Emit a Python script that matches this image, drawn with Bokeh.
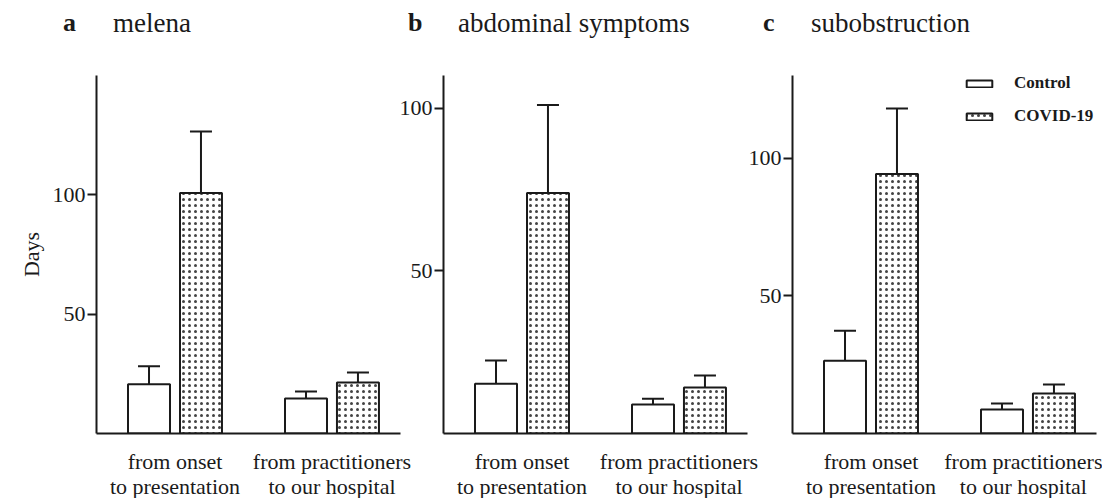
from bokeh.plotting import figure
from bokeh.models import (Range1d, FixedTicker, Whisker, TeeHead, ColumnDataSource, Div)
from bokeh.layouts import row, column
from bokeh.embed import file_html
from bokeh.resources import INLINE

# ---------------- data ----------------
group_labels = ["from onset\nto presentation", "from practitioners\nto our hospital"]
panel_letters = ["a", "b", "c"]
panel_titles = ["melena", "abdominal symptoms", "subobstruction"]
series_names = ["Control", "COVID-19"]

control_a = [20.6, 14.7]
control_sd_a = [7.6, 2.9]
covid_a = [100.8, 21.4]
covid_sd_a = [25.7, 4.2]

control_b = [15.3, 8.9]
control_sd_b = [7.1, 1.8]
covid_b = [73.9, 14.1]
covid_sd_b = [27.0, 3.7]

control_c = [26.4, 8.7]
control_sd_c = [10.9, 2.2]
covid_c = [94.2, 14.5]
covid_sd_c = [23.8, 3.3]

y_max = [150, 110, 130]
y_ticks = [50, 100]
y_axis_label = "Days"

# ---------------- style ----------------
FONT = "Liberation Serif"
INK = "#1a1a1a"
GROUP_POS = [1, 3]
OFFSET = 0.331
BAR_W = 0.535
TITLE_H = 40

panels = [
    (control_a, control_sd_a, covid_a, covid_sd_a),
    (control_b, control_sd_b, covid_b, covid_sd_b),
    (control_c, control_sd_c, covid_c, covid_sd_c),
]
borders_left = [96, 48, 47]
borders_right = [14, 14, 6]
margins = [(0, -19, 0, 0), (0, -16, 0, 0), (0, 0, 0, 0)]
letter_left = [63, 408, 763]
title_left = [113, 458, 811]


def make_panel(i):
    ctrl, ctrl_sd, cov, cov_sd = panels[i]
    p = figure(frame_width=304, frame_height=358,
               min_border_left=borders_left[i], min_border_right=borders_right[i],
               min_border_top=75 - TITLE_H, min_border_bottom=64,
               x_range=Range1d(0, 3.873), y_range=Range1d(0, y_max[i]),
               output_backend="svg", toolbar_location=None,
               background_fill_color=None, border_fill_color=None,
               margin=margins[i])
    p.outline_line_color = None
    p.xgrid.visible = False
    p.ygrid.visible = False

    xs_ctrl = [g - OFFSET for g in GROUP_POS]
    xs_cov = [g + OFFSET for g in GROUP_POS]
    src_ctrl = ColumnDataSource(dict(x=xs_ctrl, top=ctrl,
                                     upper=[m + s for m, s in zip(ctrl, ctrl_sd)]))
    src_cov = ColumnDataSource(dict(x=xs_cov, top=cov,
                                    upper=[m + s for m, s in zip(cov, cov_sd)]))

    for src in (src_ctrl, src_cov):
        w = Whisker(source=src, base="x", lower="top", upper="upper",
                    dimension="height", line_color=INK, line_width=2,
                    upper_head=TeeHead(size=22, line_color=INK, line_width=2),
                    lower_head=None, level="underlay")
        p.add_layout(w)

    kw_ctrl = dict(legend_label=series_names[0]) if i == 2 else {}
    kw_cov = dict(legend_label=series_names[1]) if i == 2 else {}
    p.vbar(x="x", top="top", width=BAR_W, source=src_ctrl,
           fill_color="white", line_color=INK, line_width=2, **kw_ctrl)
    p.vbar(x="x", top="top", width=BAR_W, source=src_cov,
           fill_color="white", line_color=INK, line_width=2,
           hatch_pattern="dot", hatch_color="#444444", hatch_scale=6,
           hatch_weight=1.5, **kw_cov)

    # x axis
    xa = p.xaxis[0]
    xa.ticker = FixedTicker(ticks=GROUP_POS)
    xa.major_label_overrides = {g: lab for g, lab in zip(GROUP_POS, group_labels)}
    xa.major_tick_line_color = None
    xa.minor_tick_line_color = None
    xa.axis_line_width = 2
    xa.axis_line_color = INK
    xa.major_label_text_font = FONT
    xa.major_label_text_font_size = "22px"
    xa.major_label_text_color = INK
    xa.major_label_text_line_height = 1.02
    xa.major_label_standoff = 9

    # y axis
    ya = p.yaxis[0]
    ya.ticker = FixedTicker(ticks=y_ticks)
    ya.minor_tick_line_color = None
    ya.major_tick_out = 9
    ya.major_tick_in = 0
    ya.major_tick_line_width = 2
    ya.major_tick_line_color = INK
    ya.axis_line_width = 2
    ya.axis_line_color = INK
    ya.major_label_text_font = FONT
    ya.major_label_text_font_size = "22px"
    ya.major_label_text_color = INK
    ya.major_label_standoff = 2
    if i == 0:
        ya.axis_label = y_axis_label
        ya.axis_label_text_font = FONT
        ya.axis_label_text_font_size = "22px"
        ya.axis_label_text_font_style = "normal"
        ya.axis_label_text_color = INK
        ya.axis_label_standoff = 6

    if i == 2:
        lg = p.legend[0]
        lg.location = (171, 307)
        lg.border_line_color = None
        lg.background_fill_color = None
        lg.background_fill_alpha = 0
        lg.padding = 0
        lg.margin = 0
        lg.glyph_width = 32
        lg.glyph_height = 9
        lg.label_height = 18
        lg.spacing = 13
        lg.label_standoff = 19
        lg.label_text_font = FONT
        lg.label_text_font_size = "17px"
        lg.label_text_font_style = "bold"
        lg.label_text_color = INK
    return p


spans = []
for i in range(3):
    spans.append(
        f'<span style="position:absolute;left:{letter_left[i]}px;top:8px;'
        f'font-size:26px;font-weight:bold;white-space:nowrap;">{panel_letters[i]}</span>')
    spans.append(
        f'<span style="position:absolute;left:{title_left[i]}px;top:8px;'
        f'font-size:27px;white-space:nowrap;">{panel_titles[i]}</span>')
title_html = (f'<div style="position:relative;width:1102px;height:{TITLE_H}px;'
              f"font-family:'{FONT}';color:{INK};line-height:normal;\">"
              + "".join(spans) + "</div>")
title_div = Div(text=title_html, width=1102, height=TITLE_H, margin=(0, 0, 0, 0))

figs = [make_panel(i) for i in range(3)]
layout = column(title_div, row(*figs, spacing=0), spacing=0)

open("out.html", "w").write(file_html(layout, INLINE))
